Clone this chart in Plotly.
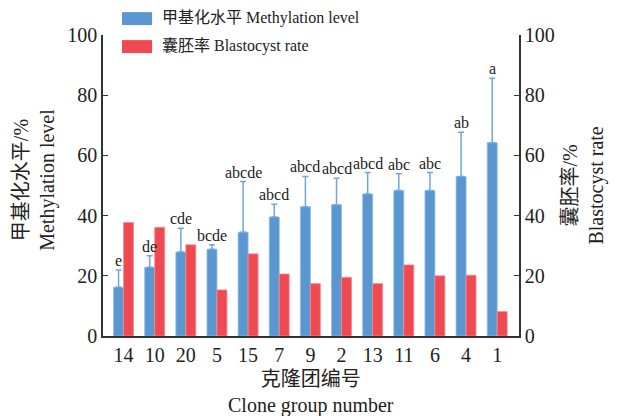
import plotly.graph_objects as go

clones = ["14", "10", "20", "5", "15", "7", "9", "2", "13", "11", "6", "4", "1"]
methylation = [16.2, 22.8, 27.9, 28.8, 34.5, 39.5, 42.9, 43.6, 47.2, 48.3, 48.3, 53.0, 64.2]
methylation_sd = [5.7, 3.9, 7.9, 1.5, 16.8, 4.3, 10.1, 8.8, 7.1, 5.6, 6.0, 14.7, 21.4]
blastocyst = [37.7, 36.1, 30.3, 15.3, 27.3, 20.6, 17.4, 19.5, 17.4, 23.6, 20.0, 20.2, 8.1]
letters = ["e", "de", "cde", "bcde", "abcde", "abcd", "abcd", "abcd", "abcd", "abc", "abc", "ab", "a"]

name_meth = "甲基化水平 Methylation level"
name_blast = "囊胚率 Blastocyst rate"

BLUE = "#5A96D0"
RED = "#EF4A51"
FONT = "Liberation Serif, Times New Roman, Noto Sans CJK SC, serif"
TXT = "#222222"

fig = go.Figure()
fig.add_trace(go.Bar(
    x=clones, y=methylation, name=name_meth,
    marker=dict(color=BLUE, line=dict(color="#8DBBE8", width=0.8)),
    width=0.32, offset=-0.32,
    error_y=dict(type="data", array=methylation_sd, arrayminus=[0] * len(clones),
                 symmetric=False, color="#6FA8E0", thickness=1.5, width=3),
    showlegend=False,
))
fig.add_trace(go.Bar(
    x=clones, y=blastocyst, name=name_blast, yaxis="y2",
    marker=dict(color=RED, line=dict(color="#F58A8F", width=0.8)),
    width=0.32, offset=0.0,
    showlegend=False,
))

annotations = []
for i, (m, s, t) in enumerate(zip(methylation, methylation_sd, letters)):
    annotations.append(dict(x=i, y=m + s, xref="x", yref="y", text=t, showarrow=False,
                            xanchor="center", yanchor="bottom", xshift=-5, yshift=-1,
                            font=dict(family=FONT, size=16, color=TXT)))

# axis titles
annotations.append(dict(x=-0.165, y=0.52, xref="paper", yref="paper", textangle=-90,
                        text="甲基化水平/%<br>Methylation level", showarrow=False,
                        xanchor="center", yanchor="middle",
                        font=dict(family=FONT, size=20, color=TXT)))
annotations.append(dict(x=1.154, y=0.50, xref="paper", yref="paper", textangle=-90,
                        text="囊胚率/%<br>Blastocyst rate", showarrow=False,
                        xanchor="center", yanchor="middle",
                        font=dict(family=FONT, size=20, color=TXT)))
annotations.append(dict(x=0.5, y=-0.187, xref="paper", yref="paper",
                        text="克隆团编号<br>Clone group number", showarrow=False,
                        xanchor="center", yanchor="middle",
                        font=dict(family=FONT, size=20, color=TXT)))

# legend (custom)
annotations.append(dict(x=0.137, y=1.055, xref="paper", yref="paper", text=name_meth,
                        showarrow=False, xanchor="left", yanchor="middle",
                        font=dict(family=FONT, size=16, color=TXT)))
annotations.append(dict(x=0.137, y=0.962, xref="paper", yref="paper", text=name_blast,
                        showarrow=False, xanchor="left", yanchor="middle",
                        font=dict(family=FONT, size=16, color=TXT)))
shapes = [
    dict(type="rect", xref="paper", yref="paper", x0=0.0457, x1=0.118, y0=1.033, y1=1.076,
         fillcolor=BLUE, line=dict(width=0), layer="above"),
    dict(type="rect", xref="paper", yref="paper", x0=0.0457, x1=0.118, y0=0.940, y1=0.983,
         fillcolor=RED, line=dict(width=0), layer="above"),
]

axis_common = dict(range=[0, 100], dtick=20, ticks="inside", ticklen=5, tickwidth=1.2,
                   tickcolor="#333333", showline=True, linecolor="#333333", linewidth=1.5,
                   showgrid=False, zeroline=False,
                   tickfont=dict(family=FONT, size=20, color=TXT))

# page body has an 8px margin, so the figure is sized to fit the 617x416 window
fig.update_layout(
    width=609, height=408,
    margin=dict(l=95, r=98, t=27, b=80),
    paper_bgcolor="white", plot_bgcolor="white",
    barmode="overlay",
    xaxis=dict(type="category", range=[-0.66, 12.7], showline=True, linecolor="#333333",
               linewidth=1.5, ticks="", showgrid=False, zeroline=False,
               tickfont=dict(family=FONT, size=20, color=TXT)),
    yaxis=dict(**axis_common),
    yaxis2=dict(overlaying="y", side="right", **axis_common),
    annotations=annotations,
    shapes=shapes,
    showlegend=False,
)

fig.write_html("out.html")
